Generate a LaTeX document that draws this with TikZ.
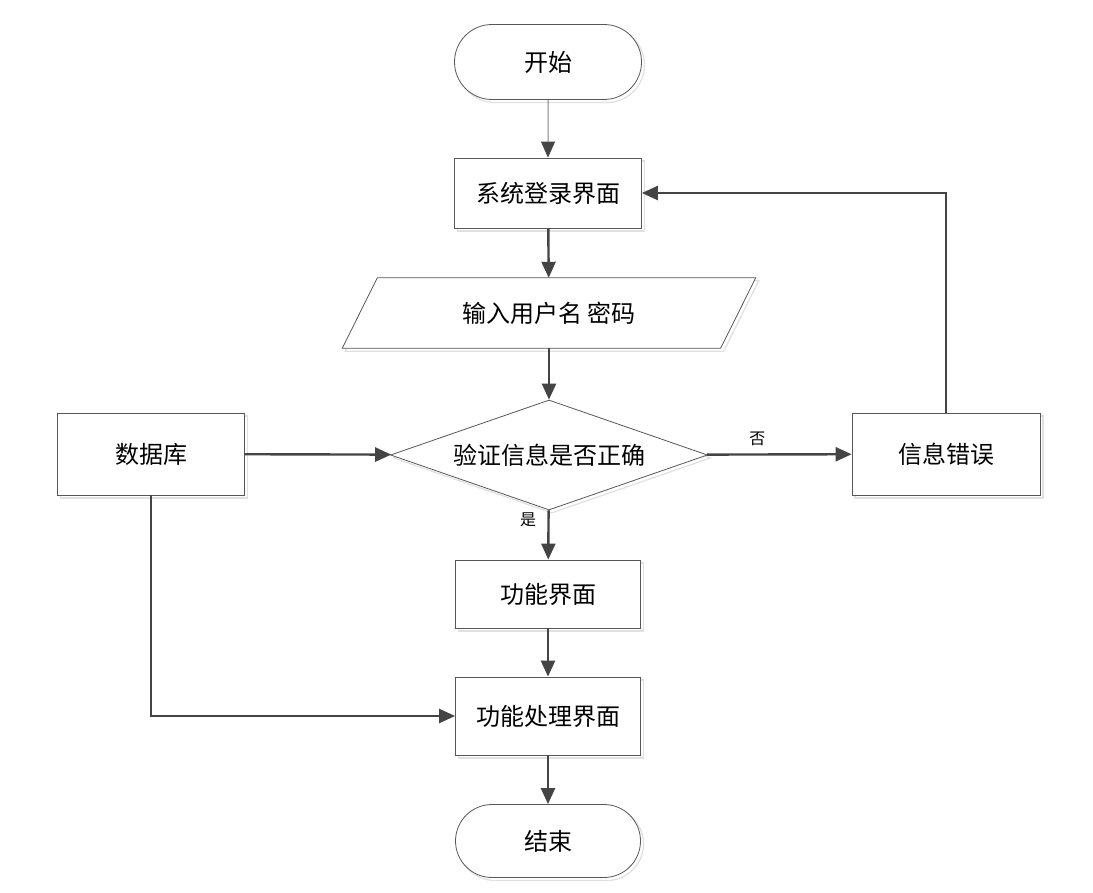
\documentclass[tikz,border=0pt]{standalone}
\usepackage{fontspec}
\setmainfont{Noto Sans CJK SC}
\usepackage{tikz}
\usetikzlibrary{arrows.meta,shapes.geometric,shapes.misc}
\definecolor{linegray}{HTML}{444444}
\definecolor{shadowgray}{HTML}{E0E0E0}

\begin{document}
\begin{tikzpicture}[x=1pt,y=-1pt,
  shadowed/.style={preaction={draw=shadowgray,line width=1.2pt,transform canvas={xshift=3pt,yshift=-3pt}}},
  boxtext/.style={inner sep=0pt,font=\fontsize{24}{28}\selectfont},
  box/.style={boxtext,shadowed,draw=linegray!90,line width=0.8pt,fill=white},
  terminal/.style={box,rounded rectangle,rounded rectangle arc length=180},
  decision/.style={box,diamond,aspect=2.9},
  outline/.style={shadowed,draw=linegray!90,line width=0.8pt,fill=white},
  flow/.style={draw=linegray,line width=2.4pt,-{Triangle[length=16pt,width=14pt,color=linegray]}},
  lbl/.style={font=\fontsize{16}{18}\selectfont}]
\useasboundingbox[fill=white] (0,0) rectangle (1093,893);

% main column
\node[terminal,minimum width=187pt,minimum height=75pt] (start) at (548,62) {开始};
\node[box,minimum width=187pt,minimum height=70pt] (login) at (548,193) {系统登录界面};
\node[boxtext,minimum width=378pt,minimum height=70pt] (input) at (549,313) {};
\draw[outline] ([xshift=17.5pt]input.north west) -- ([xshift=17.5pt]input.north east)
  -- ([xshift=-17.5pt]input.south east) -- ([xshift=-17.5pt]input.south west) -- cycle;
\node[boxtext] at (input) {输入用户名 密码};
\node[decision,minimum width=317pt,minimum height=110pt] (check) at (549,455) {验证信息是否正确};
\node[box,minimum width=185pt,minimum height=68pt] (func) at (548,594) {功能界面};
\node[box,minimum width=185pt,minimum height=78pt] (proc) at (548,716) {功能处理界面};
\node[terminal,minimum width=185pt,minimum height=73pt] (finish) at (548,841) {结束};

% side boxes
\node[box,minimum width=187pt,minimum height=82pt] (db) at (151,454) {数据库};
\node[box,minimum width=188pt,minimum height=82pt] (err) at (946,454) {信息错误};

% connectors
\draw[flow,line width=1pt,draw=gray] (start) -- (login);
\draw[flow] (login) -- (input);
\draw[flow] (input) -- (check);
\draw[flow] (check) -- node[lbl,pos=0.35,above=4pt] {否} (err);
\draw[flow] (check) -- node[lbl,pos=0.2,left=8pt] {是} (func);
\draw[flow] (func) -- (proc);
\draw[flow] (proc) -- (finish);
\draw[flow] (db) -- (check);
\draw[flow] (err.north) |- (login.east);
\draw[flow] (db.south) |- (proc.west);
\end{tikzpicture}
\end{document}
